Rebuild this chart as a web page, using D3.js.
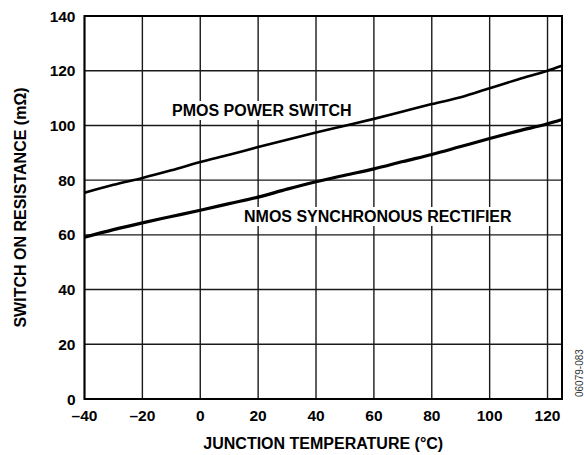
<!DOCTYPE html>
<html>
<head>
<meta charset="utf-8">
<script src="https://cdn.jsdelivr.net/npm/d3@7"></script>
<style>
  html, body { margin: 0; padding: 0; background: #fff; }
  svg { display: block; }
  text { font-family: "Liberation Sans", Arial, sans-serif; fill: #000; }
</style>
</head>
<body>
<div id="chart"></div>
<script>
const temps = [-40, -30, -20, -10, 0, 10, 20, 30, 40, 50, 60, 70, 80, 90, 100, 110, 120, 125];
const pmosValues = [75.4, 78.3, 80.8, 83.6, 86.6, 89.3, 92.1, 94.8, 97.4, 99.9, 102.4, 105.1, 107.8, 110.3, 113.6, 116.9, 120.0, 121.8];
const nmosValues = [59.1, 61.9, 64.4, 66.7, 69.0, 71.4, 73.8, 76.7, 79.4, 81.8, 84.1, 86.8, 89.4, 92.3, 95.2, 98.0, 100.6, 102.2];
const xTicks = [-40, -20, 0, 20, 40, 60, 80, 100, 120];
const yTicks = [0, 20, 40, 60, 80, 100, 120, 140];
const seriesNames = ["PMOS POWER SWITCH", "NMOS SYNCHRONOUS RECTIFIER"];
const xTitle = "JUNCTION TEMPERATURE (°C)";
const yTitle = "SWITCH ON RESISTANCE (mΩ)";
const figureId = "06079-083";

(function () {
const W = 584, H = 455;
const pL = 84.5, pR = 562, pT = 16, pB = 399;

const svg = d3.select("#chart").append("svg").attr("width", W).attr("height", H);

const x = d3.scaleLinear().domain([-40, 125]).range([pL, pR]);
const y = d3.scaleLinear().domain([0, 140]).range([pB, pT]);

const fmt = d => d < 0 ? "\u2013" + Math.abs(d) : String(d);

// grid
const grid = svg.append("g");
grid.selectAll("line.v").data(xTicks).enter().append("line")
  .attr("x1", d => x(d)).attr("x2", d => x(d))
  .attr("y1", pT).attr("y2", pB)
  .attr("stroke", "#1a1a1a").attr("stroke-width", 1.4);
grid.selectAll("line.h").data(yTicks).enter().append("line")
  .attr("x1", pL).attr("x2", pR)
  .attr("y1", d => y(d)).attr("y2", d => y(d))
  .attr("stroke", "#1a1a1a").attr("stroke-width", 1.4);

// curves
const line = d3.line().x(d => x(d[0])).y(d => y(d[1])).curve(d3.curveMonotoneX);
svg.append("path").datum(temps.map((t, i) => [t, pmosValues[i]]))
  .attr("d", line).attr("fill", "none").attr("stroke", "#000").attr("stroke-width", 2.6);
svg.append("path").datum(temps.map((t, i) => [t, nmosValues[i]]))
  .attr("d", line).attr("fill", "none").attr("stroke", "#000").attr("stroke-width", 3.2);

// labels with white boxes breaking the grid
function label(txt, xx, yy) {
  const g = svg.append("g");
  const r = g.append("rect").attr("fill", "#fff");
  const t = g.append("text").attr("x", xx).attr("y", yy)
    .attr("font-size", 16).attr("font-weight", "bold").text(txt);
  const bb = t.node().getBBox();
  r.attr("x", bb.x - 3).attr("y", bb.y - 1).attr("width", bb.width + 6).attr("height", bb.height + 2);
}
label(seriesNames[0], 172, 116);
label(seriesNames[1], 244, 222);

// border
svg.append("rect").attr("x", pL).attr("y", pT).attr("width", pR - pL).attr("height", pB - pT)
  .attr("fill", "none").attr("stroke", "#000").attr("stroke-width", 2);

// tick labels
svg.selectAll("text.xt").data(xTicks).enter().append("text")
  .attr("x", d => x(d)).attr("y", 421).attr("text-anchor", "middle")
  .attr("font-size", 15.5).attr("font-weight", "bold").text(fmt);
svg.selectAll("text.yt").data(yTicks).enter().append("text")
  .attr("x", 75.5).attr("y", d => y(d)).attr("dy", "0.36em").attr("text-anchor", "end")
  .attr("font-size", 15.5).attr("font-weight", "bold").text(fmt);

// axis titles
svg.append("text").attr("x", (pL + pR) / 2).attr("y", 448.5).attr("text-anchor", "middle")
  .attr("font-size", 16).attr("font-weight", "bold").text(xTitle);
svg.append("text").attr("transform", `translate(26,${(pT + pB) / 2}) rotate(-90)`)
  .attr("text-anchor", "middle").attr("font-size", 16).attr("font-weight", "bold").text(yTitle);

// figure id
svg.append("text").attr("transform", `translate(583,397) rotate(-90)`)
  .attr("text-anchor", "start").attr("font-size", 10).style("fill", "#333").text(figureId);
})();
</script>
</body>
</html>
